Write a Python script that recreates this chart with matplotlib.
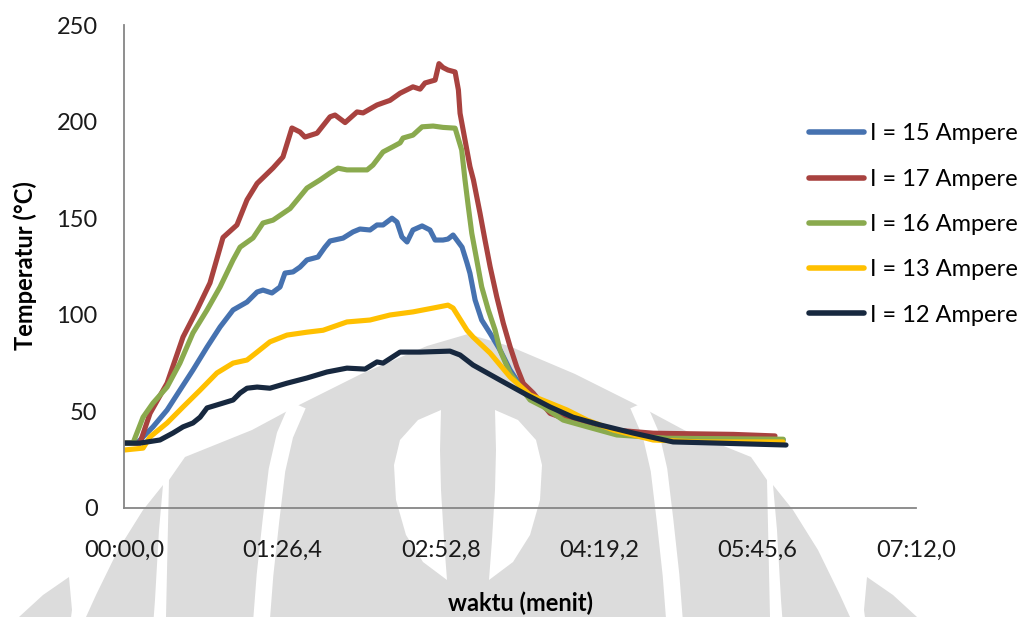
import numpy as np
import matplotlib
matplotlib.use("Agg")
import matplotlib.pyplot as plt
from matplotlib.patches import Polygon

plt.rcParams['font.family'] = ['Lato', 'DejaVu Sans']

# waktu in seconds, temperatures in degC
t15 = [0, 7.1, 15.8, 23.5, 30.5, 37.6, 45.3, 52.4, 59.5, 67.1, 72.6, 75.8, 80.7, 85.1, 87.8,
       92.2, 96.0, 99.8, 105.8, 109.6, 112.4, 119.5, 124.9, 128.7, 134.2, 138.0, 141.3, 146.2,
       148.9, 151.6, 154.4, 157.6, 162.6, 166.9, 169.7, 174.0, 176.7, 179.5, 184.4, 187.1, 188.7,
       191.5, 195.1, 199.7, 205.1, 210.6, 216.0, 226.9, 245.0, 268.9, 296.0, 359.6]
T15 = [33.6, 33.6, 42.0, 50.7, 61.0, 71.4, 83.3, 93.7, 102.5, 106.6, 111.8, 112.8, 111.3, 114.4,
       121.6, 122.2, 124.7, 128.4, 129.9, 135.0, 138.2, 139.7, 142.9, 144.4, 143.9, 146.5, 146.5,
       150.0, 148.0, 140.3, 137.7, 143.9, 146.0, 143.9, 138.7, 138.7, 139.2, 141.3, 135.0, 126.8,
       121.5, 107.7, 97.3, 90.4, 81.8, 71.4, 63.7, 54.2, 45.5, 38.8, 36.1, 35.2]

t17 = [0, 8.7, 14.2, 23.5, 32.2, 39.8, 46.9, 54.0, 61.6, 67.1, 72.6, 81.3, 86.7, 91.6, 96.0, 98.7,
       105.3, 112.4, 115.1, 120.6, 127.1, 130.4, 138.0, 145.1, 150.6, 157.6, 161.5, 164.2, 169.7,
       171.8, 174.0, 176.7, 180.6, 182.4, 183.3, 186.0, 188.7, 190.6, 194.2, 196.9, 199.7, 203.3,
       206.9, 210.6, 214.2, 217.8, 223.3, 232.4, 245.1, 266.9, 288.7, 332.4, 355.1]
T17 = [33.6, 33.6, 49.0, 64.6, 88.5, 102.5, 116.5, 140.0, 146.5, 159.5, 168.0, 176.0, 181.7, 196.7,
       194.6, 192.0, 194.0, 202.5, 203.4, 199.5, 205.0, 204.5, 208.6, 211.0, 214.7, 218.0, 216.8,
       220.0, 221.5, 230.0, 228.0, 226.7, 225.7, 216.4, 204.3, 190.5, 176.7, 169.8, 152.5, 138.7,
       124.9, 109.4, 95.6, 83.5, 73.1, 64.5, 59.4, 49.0, 44.7, 40.4, 38.7, 38.1, 37.3]

t16 = [0, 4.9, 10.4, 15.8, 23.5, 30.5, 37.6, 45.3, 52.4, 59.5, 63.3, 70.4, 75.8, 81.3, 90.6, 99.8,
       106.9, 112.4, 116.7, 121.6, 132.6, 135.8, 141.3, 146.7, 150.6, 152.2, 157.6, 162.6, 168.6,
       174.0, 180.6, 184.2, 186.0, 187.8, 189.7, 192.4, 195.1, 198.7, 202.4, 205.1, 210.6, 216.0,
       221.5, 228.7, 239.6, 252.4, 268.8, 296.0, 359.6]
T16 = [33.6, 33.6, 47.0, 54.3, 62.6, 75.0, 90.6, 102.5, 114.4, 128.4, 135.0, 139.8, 147.5, 149.0,
       155.0, 165.6, 169.8, 173.4, 175.9, 175.0, 175.0, 177.5, 184.3, 187.0, 189.0, 191.5, 193.0,
       197.3, 197.7, 197.0, 196.6, 185.3, 169.8, 156.0, 142.2, 128.4, 114.5, 102.5, 92.1, 81.7,
       69.7, 62.8, 55.9, 52.4, 45.5, 42.1, 37.8, 36.1, 35.6]

t13 = [0, 10.4, 14.2, 23.5, 32.2, 41.5, 50.7, 59.5, 67.1, 72.6, 79.6, 88.9, 99.8, 108.6, 121.6,
       134.2, 145.1, 157.6, 168.6, 176.7, 179.5, 187.1, 190.4, 199.7, 210.6, 221.5, 232.4, 241.7,
       252.6, 266.8, 288.6, 314.2, 359.5]
T13 = [30.0, 31.0, 36.8, 44.0, 52.3, 61.0, 69.9, 75.0, 76.6, 80.7, 86.0, 89.5, 91.0, 92.0, 96.3,
       97.3, 99.9, 101.5, 103.5, 105.0, 103.5, 92.0, 88.5, 80.2, 67.8, 58.5, 54.3, 50.7, 45.5,
       40.4, 35.2, 34.2, 34.2]

t12 = [0, 8.7, 19.6, 26.7, 32.2, 37.6, 41.5, 45.3, 54.0, 59.5, 63.3, 67.1, 72.6, 79.6, 88.9, 99.8,
       110.7, 121.6, 131.5, 138.0, 141.3, 150.6, 161.5, 177.8, 183.3, 190.4, 205.1, 219.8, 232.4,
       244.9, 259.7, 277.7, 299.5, 323.5, 361.1]
T12 = [33.6, 33.6, 35.2, 38.8, 42.0, 44.0, 47.0, 51.8, 54.3, 55.9, 59.5, 62.0, 62.6, 62.0, 64.6,
       67.3, 70.4, 72.4, 71.9, 75.6, 75.0, 80.7, 80.7, 81.2, 79.2, 74.0, 66.2, 58.5, 52.3, 47.0,
       43.0, 38.8, 34.2, 33.6, 32.6]

series = [
    ("I = 15 Ampere", t15, T15, "#4672b0"),
    ("I = 17 Ampere", t17, T17, "#a8423f"),
    ("I = 16 Ampere", t16, T16, "#8aaa4e"),
    ("I = 13 Ampere", t13, T13, "#ffc000"),
    ("I = 12 Ampere", t12, T12, "#17283f"),
]
xticks = [0, 86.4, 172.8, 259.2, 345.6, 432.0]
xticklabels = ["00:00,0", "01:26,4", "02:52,8", "04:19,2", "05:45,6", "07:12,0"]
yticks = [0, 50, 100, 150, 200, 250]

W, H = 1027, 617
fig = plt.figure(figsize=(W / 100, H / 100), dpi=100)

# faint logo watermark of the scanned page (pixel coords, mirrored about cx)
cx = 468
grey = "#dcdcdc"

def mirrored(half):
    pts = [(cx + dx, y) for dx, y in half] + [(cx - dx, y) for dx, y in reversed(half)]
    return [(x / W, 1 - y / H) for x, y in pts]

def side(pts, sgn):
    return [((cx + sgn * dx) / W, 1 - y / H) for dx, y in pts]

body = [(0, 334), (41, 346), (107, 374), (175, 408), (216, 430), (283, 457), (299, 480),
        (302, 617), (305, 640)]
fig.patches.append(Polygon(mirrored(body), closed=True, transform=fig.transFigure,
                           fc=grey, ec="none", zorder=-10))
band = [(305, 485), (325, 510), (350, 550), (372, 595), (382, 617), (392, 640), (316, 640),
        (313, 600), (309, 530)]
outer = [(399, 577), (425, 595), (449, 617), (460, 640), (400, 640), (396, 610)]
crescent = [(27, 410), (50, 420), (68, 440), (74, 465), (72, 500), (62, 535), (45, 562),
            (21, 580), (24, 540), (27, 490), (28, 450)]
gap = [(170, 405), (183, 435), (191, 470), (197, 520), (203, 575), (208, 640)]
for sgn in (1, -1):
    fig.patches.append(Polygon(side(band, sgn), closed=True, transform=fig.transFigure,
                               fc=grey, ec="none", zorder=-10))
    fig.patches.append(Polygon(side(outer, sgn), closed=True, transform=fig.transFigure,
                               fc=grey, ec="none", zorder=-10))
    fig.patches.append(Polygon(side(crescent, sgn), closed=True, transform=fig.transFigure,
                               fc="white", ec="none", zorder=-9))
    g = side(gap, sgn)
    fig.lines.append(plt.Line2D([p[0] for p in g], [p[1] for p in g], transform=fig.transFigure,
                                color="white", lw=12, solid_capstyle="butt", zorder=-9))

ax = fig.add_axes([124 / W, 1 - 508 / H, (916 - 124) / W, (508 - 25) / H])
ax.set_facecolor("none")

for label, t, T, col in series:
    ax.plot(t, T, color=col, lw=3.7, label=label, solid_capstyle="round",
            solid_joinstyle="round")

ax.set_xlim(0, 432)
ax.set_ylim(0, 250)
ax.set_xticks(xticks)
ax.set_xticklabels(xticklabels)
ax.set_yticks(yticks)
ax.tick_params(axis="both", length=0, labelsize=17, colors="#1a1a1a")
ax.tick_params(axis="y", pad=19)
ax.tick_params(axis="x", pad=23)
for s in ["top", "right"]:
    ax.spines[s].set_visible(False)
for s in ["left", "bottom"]:
    ax.spines[s].set_color("#868686")
    ax.spines[s].set_linewidth(1.3)

fig.text(25 / W, 1 - 266 / H, "Temperatur (°C)", rotation=90, ha="center", va="center",
         fontsize=17, fontweight="bold")
fig.text(520 / W, 1 - 603 / H, "waktu (menit)", ha="center", va="center",
         fontsize=17, fontweight="bold")

leg = ax.legend(loc="upper left", bbox_to_anchor=(800 / W, 1 - 114 / H),
                bbox_transform=fig.transFigure, frameon=False, fontsize=17,
                handlelength=2.3, handletextpad=0.25, labelspacing=1.03, borderaxespad=0)
for line in leg.get_lines():
    line.set_linewidth(4.0)

fig.savefig("out.png", dpi=100)
